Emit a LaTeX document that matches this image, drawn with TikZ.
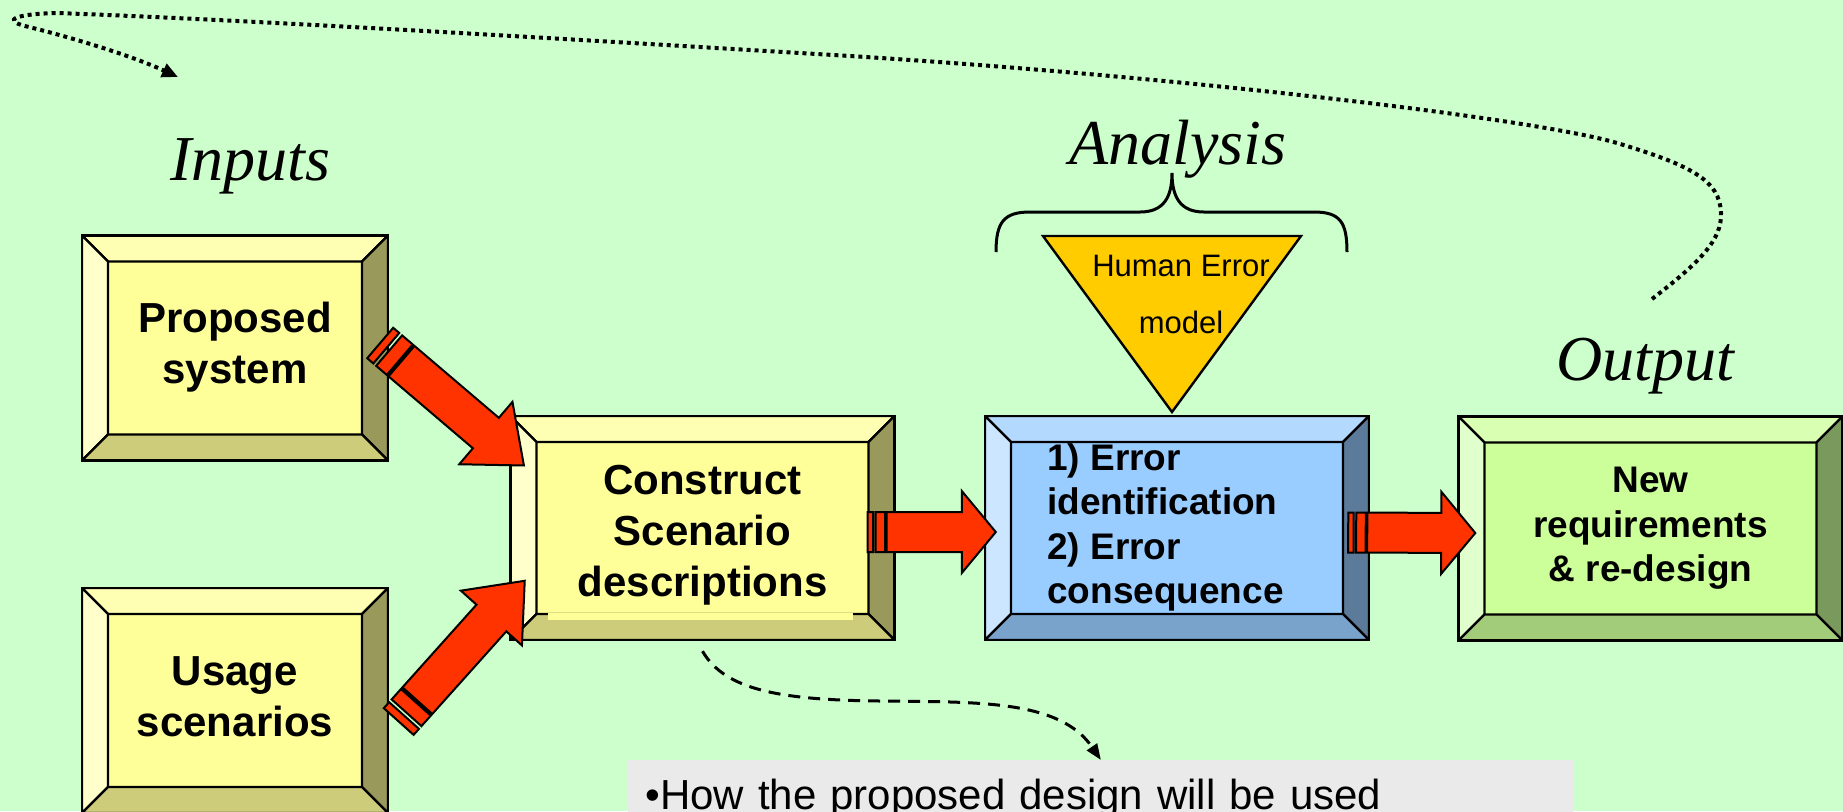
\documentclass[tikz,border=0pt]{standalone}
\usepackage{fontspec}
\setmainfont{Liberation Serif}
\setsansfont{Liberation Sans}
\usetikzlibrary{calc,arrows.meta}

\definecolor{bgmint}{HTML}{CCFFCC}
\definecolor{yface}{HTML}{FFFF99}
\definecolor{ytop}{HTML}{FFFFB3}
\definecolor{yleft}{HTML}{FFFFCC}
\definecolor{yright}{HTML}{99995C}
\definecolor{ybot}{HTML}{CCCC7A}
\definecolor{bface}{HTML}{99CCFF}
\definecolor{btop}{HTML}{B3D9FF}
\definecolor{bleft}{HTML}{CCE6FF}
\definecolor{bright}{HTML}{5C7A99}
\definecolor{bbot}{HTML}{7AA3CC}
\definecolor{gface}{HTML}{CCFF99}
\definecolor{gtop}{HTML}{D9FFB3}
\definecolor{gleft}{HTML}{E0FFCC}
\definecolor{gright}{HTML}{7A995C}
\definecolor{gbot}{HTML}{A3CC7A}
\definecolor{arrowred}{HTML}{FF3300}
\definecolor{hegold}{HTML}{FFCC00}
\definecolor{descgray}{HTML}{EAEAEA}

\tikzset{
  bevelline/.style={draw=black, line width=1.2pt},
  bevelbox/.style={draw=black, line width=1.2pt, fill=#1face,
    path picture={
      \coordinate (pnw) at (path picture bounding box.north west);
      \coordinate (pne) at (path picture bounding box.north east);
      \coordinate (psw) at (path picture bounding box.south west);
      \coordinate (pse) at (path picture bounding box.south east);
      \draw[bevelline, fill=#1top] (pnw) -- (pne) -- ([shift={(-13pt,-13pt)}]pne) -- ([shift={(13pt,-13pt)}]pnw) -- cycle;
      \draw[bevelline, fill=#1left] (pnw) -- ([shift={(13pt,-13pt)}]pnw) -- ([shift={(13pt,13pt)}]psw) -- (psw) -- cycle;
      \draw[bevelline, fill=#1right] (pne) -- (pse) -- ([shift={(-13pt,13pt)}]pse) -- ([shift={(-13pt,-13pt)}]pne) -- cycle;
      \draw[bevelline, fill=#1bot] (psw) -- (pse) -- ([shift={(-13pt,13pt)}]pse) -- ([shift={(13pt,13pt)}]psw) -- cycle;
    }},
  smallbox/.style={minimum width=153pt, minimum height=112.5pt},
  widebox/.style={minimum width=192pt, minimum height=112pt},
  boxtext/.style={font=\sffamily\bfseries\fontsize{21}{25.5}\selectfont, align=center},
  boxtextsm/.style={font=\sffamily\bfseries\fontsize{18.5}{22.25}\selectfont},
  heading/.style={font=\rmfamily\itshape\fontsize{32}{38}\selectfont, inner sep=0pt},
  hetext/.style={font=\sffamily\fontsize{15.5}{28.5}\selectfont, align=center, inner sep=0pt},
  descbox/.style={fill=descgray, text width=455.5pt, inner xsep=8.5pt, minimum height=38pt,
    align=left, font=\sffamily\fontsize{21}{25}\selectfont},
  blockarrow/.style={draw=black, fill=arrowred, line width=1pt, line join=miter},
  loopline/.style={line width=2pt, dash pattern=on 2pt off 2pt, -{Triangle[length=8pt,width=7pt]}},
  dasharrow/.style={line width=1.5pt, dash pattern=on 6pt off 4pt, -{Triangle[length=8pt,width=6pt]}},
}

% block arrow with two stripes at its tail
\newcommand{\redarrow}[3]{%
  \draw[blockarrow] let \p1=(#1), \p2=(#2),
    \n1={atan2(\y2-\y1,\x2-\x1)}, \n2={veclen(\x2-\x1,\y2-\y1)} in
    [shift={(\p1)}, rotate=\n1]
    (0pt,-10pt) -- ({0.16*#3},-10pt) -- ({0.16*#3},10pt) -- (0pt,10pt) -- cycle
    ({0.235*#3},-10pt) -- ({0.515*#3},-10pt) -- ({0.515*#3},10pt) -- ({0.235*#3},10pt) -- cycle
    ({0.56*#3},-10pt) -- ({\n2-#3},-10pt) -- ({\n2-#3},-20.5pt) -- (\n2,0pt)
      -- ({\n2-#3},20.5pt) -- ({\n2-#3},10pt) -- ({0.56*#3},10pt) -- cycle;
}

\begin{document}
\begin{tikzpicture}[x=0.5pt, y=-0.5pt]
    \useasboundingbox (0,0) rectangle (1843,811);
    \clip (0,0) rectangle (1843,811);
    \fill[bgmint] (0,0) rectangle (1843,811);

    % Inputs
    \node[heading, anchor=base] (inlbl) at (250.5,180) {Inputs};
    \node[bevelbox=y, smallbox, boxtext] (prop) at (235,348) {\strut Proposed\\system\strut};
    \node[bevelbox=y, smallbox, boxtext] (usage) at (235,700.5) {\strut Usage\\scenarios\strut};

    % Scenarios
    \node[bevelbox=y, widebox, boxtext] (cons) at (702.5,528) {\rule{0pt}{25.6pt}Construct\\Scenario\\descriptions\strut};
    \fill[yface] ($(cons.south)+(-155,-28)$) rectangle ($(cons.south)+(150,-21.5)$);

    % Analysis
    \node[heading, anchor=base] (anlbl) at (1178,164) {Analysis};
    \draw[line width=1.5pt] (996,252) .. controls (996,222) and (1004,212) .. (1030,212) -- (1140,212)
        .. controls (1163,212) and (1172,198) .. (1172,173)
        .. controls (1172,198) and (1181,212) .. (1204,212) -- (1314,212)
        .. controls (1340,212) and (1347,222) .. (1347,252);
    \draw[bevelline, fill=hegold] (1043,236) -- (1301,236) -- (1172,412) -- cycle;
    \node[hetext] (hem) at (1181,294) {Human Error\\model};
    \node[bevelbox=b, widebox, boxtextsm, align=left] (errs) at (1177,528)
        {\strut 1) Error\\identification\\2) Error\\consequence\hspace*{11.5pt}\strut};

    % Output
    \node[heading, anchor=base] (outlbl) at (1645.5,380) {Output};
    \node[bevelbox=g, widebox, boxtextsm, align=center] (newreq) at (1650.5,528.5)
        {\strut New\\requirements\\\& re-design\strut};

    % Arrows
    \coordinate (a1s) at ($(prop.east)+(-9,-5)$);
    \coordinate (a1e) at ($(cons.north west)+(15,51)$);
    \coordinate (a2s) at ($(usage.east)+(9.5,21)$);
    \coordinate (a2e) at ($(cons.south west)+(15.5,-60.5)$);
    \coordinate (a3s) at ($(cons.east)+(-28,4)$);
    \coordinate (a3e) at ($(errs.west)+(12,4)$);
    \coordinate (a4s) at ($(errs.east)+(-22,4.5)$);
    \coordinate (a4e) at ($(newreq.west)+(18,4.5)$);
    \redarrow{a1s}{a1e}{25pt}
    \redarrow{a2s}{a2e}{25pt}
    \redarrow{a3s}{a3e}{17pt}
    \redarrow{a4s}{a4e}{17pt}

    % Feedback loop
    \coordinate (loopa) at (1652,299);
    \coordinate (loopb) at (178,77);
    \draw[loopline] (loopa) .. controls (1700,262) and (1722,240) .. (1721,213)
        .. controls (1720,180) and (1690,165) .. (1617,143)
        .. controls (1540,120) and (1200,78) .. (850,56)
        .. controls (550,38) and (250,20) .. (57,13)
        .. controls (15,14) and (2,20) .. (25,26)
        .. controls (70,37) and (130,55) .. (loopb);

    % Description
    \node[descbox, anchor=north west] (desc) at (628,760) {•How the proposed design will be used};
    \draw[dasharrow] ($(cons.south)+(0,10)$) .. controls (725,690) and (780,700) .. (880,701)
        .. controls (980,702) and (1060,700) .. (desc.north);
\end{tikzpicture}
\end{document}
